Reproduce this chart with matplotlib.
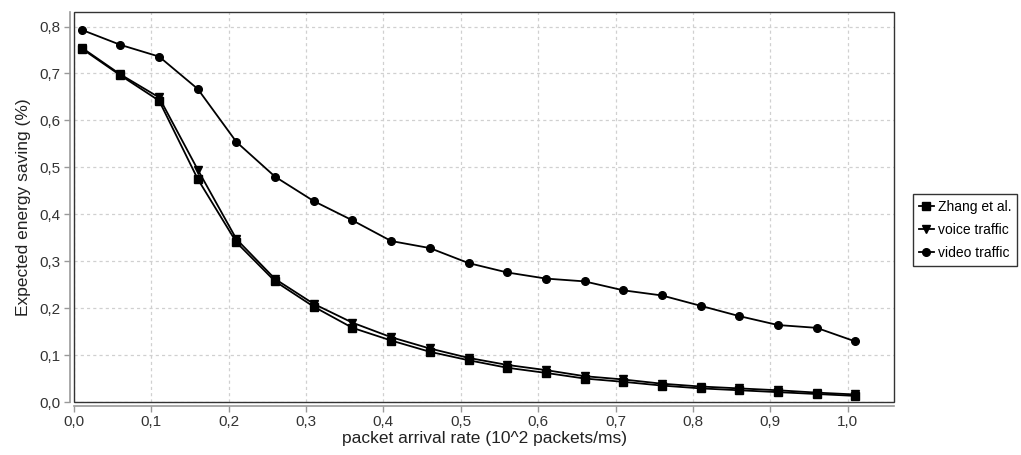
import matplotlib
matplotlib.use("Agg")
import matplotlib.pyplot as plt
from matplotlib.ticker import FuncFormatter, MultipleLocator
from matplotlib.patches import Rectangle

plt.rcParams['font.family'] = ['Liberation Sans', 'DejaVu Sans']

# packet arrival rate (10^2 packets/ms)
rate = [0.01, 0.06, 0.11, 0.16, 0.21, 0.26, 0.31, 0.36, 0.41, 0.46, 0.51,
        0.56, 0.61, 0.66, 0.71, 0.76, 0.81, 0.86, 0.91, 0.96, 1.01]

zhang = [0.753, 0.696, 0.642, 0.475, 0.340, 0.257, 0.203, 0.158, 0.131, 0.107, 0.089,
         0.073, 0.062, 0.050, 0.043, 0.035, 0.029, 0.025, 0.021, 0.017, 0.013]
voice = [0.755, 0.698, 0.649, 0.495, 0.347, 0.262, 0.209, 0.169, 0.138, 0.114, 0.094,
         0.079, 0.068, 0.055, 0.048, 0.039, 0.033, 0.029, 0.025, 0.020, 0.016]
video = [0.793, 0.761, 0.736, 0.667, 0.554, 0.480, 0.428, 0.387, 0.343, 0.328, 0.296,
         0.276, 0.263, 0.257, 0.238, 0.227, 0.205, 0.183, 0.164, 0.158, 0.129]

series = [
    ("Zhang et al.", zhang, "s"),
    ("voice traffic", voice, "v"),
    ("video traffic", video, "o"),
]

fig = plt.figure(figsize=(10.21, 4.55), dpi=100)
ax = fig.add_axes([74 / 1021, 53 / 455, 820 / 1021, 390 / 455])

for name, vals, mk in series:
    ax.plot(rate, vals, color="black", lw=1.3, marker=mk, markersize=5.5,
            label=name, clip_on=False, zorder=3)

ax.set_xlim(0, 1.06)
ax.set_ylim(0, 0.831)
ax.xaxis.set_major_locator(MultipleLocator(0.1))
ax.yaxis.set_major_locator(MultipleLocator(0.1))
comma = FuncFormatter(lambda v, p: f"{v:.1f}".replace(".", ","))
ax.xaxis.set_major_formatter(comma)
ax.yaxis.set_major_formatter(comma)

ax.grid(True, color="#d0d0d0", linestyle=(0, (2.5, 2.5)), lw=0.9)
ax.set_axisbelow(True)

# gray axis lines set slightly off the plot area
for side in ["top", "right"]:
    ax.spines[side].set_visible(False)
for side in ["left", "bottom"]:
    ax.spines[side].set_position(("outward", 3))
    ax.spines[side].set_color("#999999")
    ax.spines[side].set_linewidth(1.2)
ax.tick_params(axis="both", colors="#999999", labelcolor="#333333",
               labelsize=11, length=4, width=1, pad=2.5)

# plot border
ax.add_patch(Rectangle((0, 0), 1, 1, transform=ax.transAxes, fill=False,
                       edgecolor="#333333", lw=1.0, clip_on=False, zorder=4))

ax.set_xlabel("packet arrival rate (10^2 packets/ms)", fontsize=12.5,
              color="#222222", labelpad=1)
ax.set_ylabel("Expected energy saving (%)", fontsize=12.5, color="#222222",
              labelpad=6)

leg = fig.legend(loc="center left", bbox_to_anchor=(913 / 1021, 1 - 230 / 455),
                 fontsize=10, frameon=True, fancybox=False, handlelength=1.1,
                 handletextpad=0.3, borderpad=0.4, labelspacing=0.65,
                 borderaxespad=0)
leg.get_frame().set_edgecolor("black")
leg.get_frame().set_linewidth(1.0)

plt.savefig("out.png", dpi=100)
